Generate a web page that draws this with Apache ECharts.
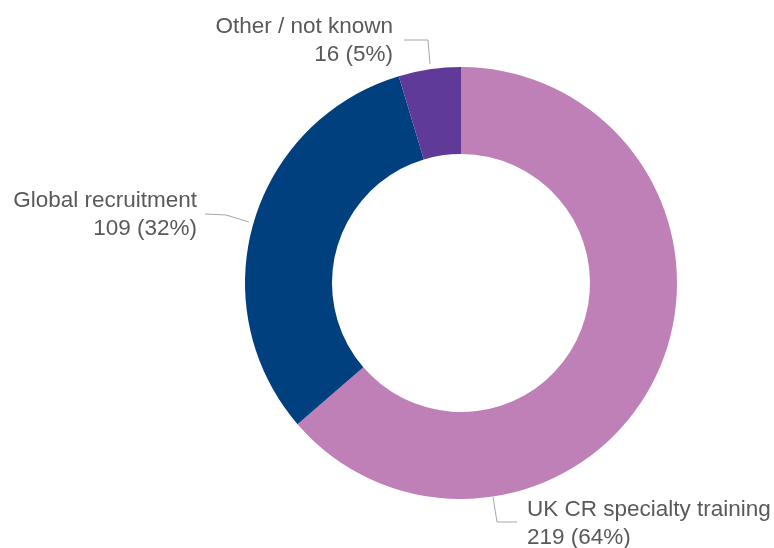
<!DOCTYPE html>
<html>
<head>
<meta charset="utf-8">
<script src="https://cdn.jsdelivr.net/npm/echarts@6/dist/echarts.min.js"></script>
<style>
html,body{margin:0;padding:0;background:#fff;}
#chart{width:774px;height:548px;}
</style>
</head>
<body>
<div id="chart"></div>
<script>
var categories = ['UK CR specialty training', 'Global recruitment', 'Other / not known'];
var values = [219, 109, 16];
var colors = ['#bf7fb7', '#00407f', '#603a98'];

var total = values.reduce(function(a, b){ return a + b; }, 0);

// label placement (styling only)
var labelPos = [
  {x: 527, y: 524, align: 'left', line: [[493, 497], [497, 522], [517, 522]]},
  {x: 197, y: 215, align: 'right', line: [[249, 222], [226, 215], [205, 214]]},
  {x: 393, y: 41, align: 'right', line: [[430, 64], [428, 40], [404, 40]]}
];

var chart = echarts.init(document.getElementById('chart'));
chart.setOption({
  animation: false,
  series: [{
    type: 'pie',
    center: [461, 283],
    radius: [129, 216],
    startAngle: 90,
    clockwise: true,
    avoidLabelOverlap: false,
    data: categories.map(function(c, i){
      return {name: c, value: values[i], itemStyle: {color: colors[i]}};
    }),
    label: {
      show: true,
      position: 'outside',
      fontFamily: 'Liberation Sans, Arial, sans-serif',
      fontSize: 22.5,
      lineHeight: 28,
      color: '#595959',
      formatter: function(p){
        return p.name + '\n' + p.value + ' (' + Math.round(p.value / total * 100) + '%)';
      }
    },
    labelLine: {
      show: true,
      lineStyle: {color: '#a6a6a6', width: 1}
    },
    labelLayout: function(params){
      var l = labelPos[params.dataIndex];
      return {
        x: l.x,
        y: l.y,
        align: l.align,
        verticalAlign: 'middle',
        labelLinePoints: l.line
      };
    },
    emphasis: {disabled: true}
  }]
});
</script>
</body>
</html>
